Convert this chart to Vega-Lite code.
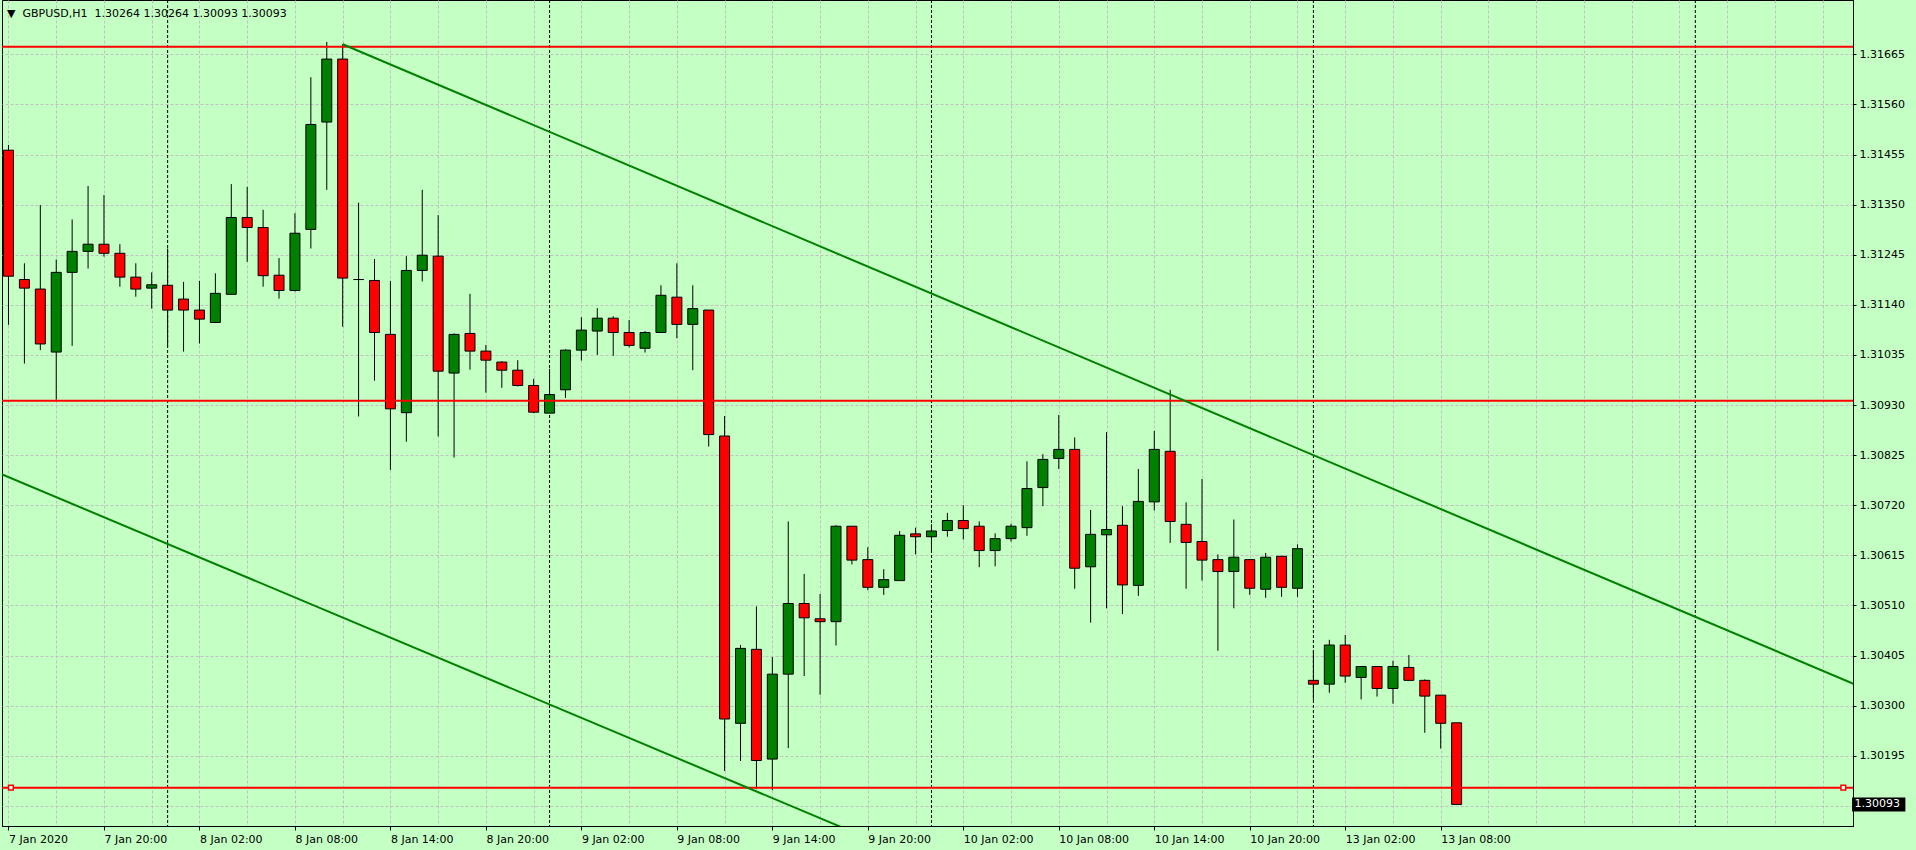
{
  "$schema": "https://vega.github.io/schema/vega-lite/v6.json",
  "width": 1851,
  "height": 826,
  "autosize": {"type": "none"},
  "padding": {"left": 2, "top": 0, "right": 63, "bottom": 24},
  "background": "#C4FFC4",
  "config": {
    "view": {"fill": "#C4FFC4", "stroke": "#000000", "strokeWidth": 1},
    "font": "DejaVu Sans"
  },
  "title": {
    "text": "▼\u00a0\u00a0GBPUSD,H1\u00a0\u00a01.30264 1.30264 1.30093 1.30093",
    "anchor": "start", "frame": "group", "orient": "top",
    "offset": -25, "baseline": "middle", "dx": 5,
    "font": "DejaVu Sans", "fontSize": 11, "fontWeight": "normal", "color": "#000000"
  },
  "datasets": {
    "candles": [
      {"i":0,"o":1.31464,"h":1.31475,"l":1.31098,"c":1.31200},
      {"i":1,"o":1.31193,"h":1.31227,"l":1.31017,"c":1.31175},
      {"i":2,"o":1.31173,"h":1.31349,"l":1.31045,"c":1.31058},
      {"i":3,"o":1.31041,"h":1.31235,"l":1.30941,"c":1.31208},
      {"i":4,"o":1.31208,"h":1.31319,"l":1.31054,"c":1.31252},
      {"i":5,"o":1.31252,"h":1.31389,"l":1.31216,"c":1.31267},
      {"i":6,"o":1.31267,"h":1.31370,"l":1.31241,"c":1.31248},
      {"i":7,"o":1.31248,"h":1.31267,"l":1.31178,"c":1.31198},
      {"i":8,"o":1.31198,"h":1.31227,"l":1.31157,"c":1.31173},
      {"i":9,"o":1.31175,"h":1.31208,"l":1.31132,"c":1.31182},
      {"i":10,"o":1.31181,"h":1.31258,"l":1.31052,"c":1.31129},
      {"i":11,"o":1.31152,"h":1.31188,"l":1.31042,"c":1.31129},
      {"i":12,"o":1.31129,"h":1.31190,"l":1.31059,"c":1.31110},
      {"i":13,"o":1.31103,"h":1.31206,"l":1.31102,"c":1.31164},
      {"i":14,"o":1.31162,"h":1.31393,"l":1.31162,"c":1.31323},
      {"i":15,"o":1.31323,"h":1.31387,"l":1.31230,"c":1.31302},
      {"i":16,"o":1.31302,"h":1.31339,"l":1.31178,"c":1.31201},
      {"i":17,"o":1.31202,"h":1.31238,"l":1.31153,"c":1.31170},
      {"i":18,"o":1.31170,"h":1.31332,"l":1.31168,"c":1.31290},
      {"i":19,"o":1.31298,"h":1.31617,"l":1.31258,"c":1.31518},
      {"i":20,"o":1.31523,"h":1.31691,"l":1.31381,"c":1.31655},
      {"i":21,"o":1.31655,"h":1.31686,"l":1.31094,"c":1.31196},
      {"i":22,"o":1.31193,"h":1.31354,"l":1.30906,"c":1.31193},
      {"i":23,"o":1.31191,"h":1.31236,"l":1.30981,"c":1.31082},
      {"i":24,"o":1.31078,"h":1.31190,"l":1.30794,"c":1.30922},
      {"i":25,"o":1.30914,"h":1.31242,"l":1.30853,"c":1.31212},
      {"i":26,"o":1.31212,"h":1.31381,"l":1.31189,"c":1.31244},
      {"i":27,"o":1.31242,"h":1.31328,"l":1.30864,"c":1.31001},
      {"i":28,"o":1.30997,"h":1.31080,"l":1.30820,"c":1.31078},
      {"i":29,"o":1.31080,"h":1.31163,"l":1.31004,"c":1.31043},
      {"i":30,"o":1.31043,"h":1.31056,"l":1.30956,"c":1.31024},
      {"i":31,"o":1.31020,"h":1.31022,"l":1.30966,"c":1.31003},
      {"i":32,"o":1.31003,"h":1.31024,"l":1.30969,"c":1.30971},
      {"i":33,"o":1.30971,"h":1.30985,"l":1.30913,"c":1.30915},
      {"i":34,"o":1.30913,"h":1.31006,"l":1.30913,"c":1.30952},
      {"i":35,"o":1.30962,"h":1.31047,"l":1.30945,"c":1.31045},
      {"i":36,"o":1.31045,"h":1.31114,"l":1.31023,"c":1.31087},
      {"i":37,"o":1.31085,"h":1.31133,"l":1.31035,"c":1.31112},
      {"i":38,"o":1.31112,"h":1.31116,"l":1.31033,"c":1.31082},
      {"i":39,"o":1.31082,"h":1.31108,"l":1.31051,"c":1.31055},
      {"i":40,"o":1.31049,"h":1.31085,"l":1.31040,"c":1.31082},
      {"i":41,"o":1.31082,"h":1.31181,"l":1.31082,"c":1.31160},
      {"i":42,"o":1.31156,"h":1.31227,"l":1.31070,"c":1.31099},
      {"i":43,"o":1.31099,"h":1.31181,"l":1.31003,"c":1.31132},
      {"i":44,"o":1.31129,"h":1.31129,"l":1.30843,"c":1.30868},
      {"i":45,"o":1.30865,"h":1.30907,"l":1.30163,"c":1.30272},
      {"i":46,"o":1.30263,"h":1.30427,"l":1.30184,"c":1.30420},
      {"i":47,"o":1.30418,"h":1.30508,"l":1.30125,"c":1.30185},
      {"i":48,"o":1.30188,"h":1.30402,"l":1.30123,"c":1.30366},
      {"i":49,"o":1.30366,"h":1.30686,"l":1.30211,"c":1.30514},
      {"i":50,"o":1.30514,"h":1.30576,"l":1.30362,"c":1.30484},
      {"i":51,"o":1.30482,"h":1.30534,"l":1.30323,"c":1.30476},
      {"i":52,"o":1.30476,"h":1.30678,"l":1.30426,"c":1.30676},
      {"i":53,"o":1.30676,"h":1.30676,"l":1.30596,"c":1.30605},
      {"i":54,"o":1.30606,"h":1.30632,"l":1.30542,"c":1.30548},
      {"i":55,"o":1.30548,"h":1.30586,"l":1.30532,"c":1.30564},
      {"i":56,"o":1.30562,"h":1.30666,"l":1.30562,"c":1.30657},
      {"i":57,"o":1.30660,"h":1.30673,"l":1.30617,"c":1.30654},
      {"i":58,"o":1.30654,"h":1.30680,"l":1.30625,"c":1.30666},
      {"i":59,"o":1.30667,"h":1.30704,"l":1.30654,"c":1.30688},
      {"i":60,"o":1.30688,"h":1.30720,"l":1.30648,"c":1.30671},
      {"i":61,"o":1.30676,"h":1.30686,"l":1.30590,"c":1.30625},
      {"i":62,"o":1.30625,"h":1.30661,"l":1.30592,"c":1.30650},
      {"i":63,"o":1.30650,"h":1.30681,"l":1.30644,"c":1.30676},
      {"i":64,"o":1.30673,"h":1.30812,"l":1.30656,"c":1.30755},
      {"i":65,"o":1.30757,"h":1.30827,"l":1.30718,"c":1.30816},
      {"i":66,"o":1.30818,"h":1.30909,"l":1.30796,"c":1.30837},
      {"i":67,"o":1.30837,"h":1.30862,"l":1.30545,"c":1.30588},
      {"i":68,"o":1.30591,"h":1.30710,"l":1.30474,"c":1.30659},
      {"i":69,"o":1.30658,"h":1.30873,"l":1.30504,"c":1.30669},
      {"i":70,"o":1.30678,"h":1.30718,"l":1.30492,"c":1.30553},
      {"i":71,"o":1.30552,"h":1.30796,"l":1.30530,"c":1.30728},
      {"i":72,"o":1.30727,"h":1.30876,"l":1.30709,"c":1.30837},
      {"i":73,"o":1.30833,"h":1.30962,"l":1.30641,"c":1.30686},
      {"i":74,"o":1.30680,"h":1.30726,"l":1.30545,"c":1.30642},
      {"i":75,"o":1.30644,"h":1.30775,"l":1.30562,"c":1.30605},
      {"i":76,"o":1.30606,"h":1.30617,"l":1.30415,"c":1.30581},
      {"i":77,"o":1.30581,"h":1.30690,"l":1.30504,"c":1.30611},
      {"i":78,"o":1.30606,"h":1.30606,"l":1.30532,"c":1.30546},
      {"i":79,"o":1.30544,"h":1.30620,"l":1.30526,"c":1.30611},
      {"i":80,"o":1.30613,"h":1.30613,"l":1.30528,"c":1.30548},
      {"i":81,"o":1.30546,"h":1.30638,"l":1.30528,"c":1.30629},
      {"i":82,"o":1.30353,"h":1.30415,"l":1.30312,"c":1.30345},
      {"i":83,"o":1.30345,"h":1.30438,"l":1.30327,"c":1.30427},
      {"i":84,"o":1.30427,"h":1.30448,"l":1.30348,"c":1.30362},
      {"i":85,"o":1.30359,"h":1.30382,"l":1.30313,"c":1.30382},
      {"i":86,"o":1.30382,"h":1.30382,"l":1.30319,"c":1.30336},
      {"i":87,"o":1.30336,"h":1.30394,"l":1.30304,"c":1.30382},
      {"i":88,"o":1.30380,"h":1.30406,"l":1.30353,"c":1.30353},
      {"i":89,"o":1.30353,"h":1.30355,"l":1.30243,"c":1.30320},
      {"i":90,"o":1.30322,"h":1.30322,"l":1.30210,"c":1.30263},
      {"i":91,"o":1.30264,"h":1.30264,"l":1.30093,"c":1.30093}
    ],
    "levels": [{"p":1.31681},{"p":1.30939},{"p":1.30128}],
    "days": [{"i":10},{"i":34},{"i":58},{"i":82},{"i":106}],
    "trend": [
      {"line":"upper","i":21,"p":1.31686},
      {"line":"upper","i":116,"p":1.30345},
      {"line":"lower","i":-1,"p":1.30793},
      {"line":"lower","i":60,"p":1.29938}
    ],
    "handles": [{"i":0.15,"p":1.30128},{"i":115.3,"p":1.30128}],
    "last": [{"p":1.30093}]
  },
  "layer": [
    {
      "data": {"name": "days"},
      "mark": {"type": "rule", "color": "#000000", "strokeWidth": 1, "strokeDash": [3, 2]},
      "encoding": {
        "x": {
          "field": "i", "type": "quantitative",
          "scale": {"domain": [-0.094, 115.594], "nice": false, "zero": false},
          "axis": {
            "orient": "bottom",
            "values": [0,3,6,9,12,15,18,21,24,27,30,33,36,39,42,45,48,51,54,57,60,63,66,69,72,75,78,81,84,87,90,93,96,99,102,105,108,111,114],
            "grid": true, "gridColor": "#C0C0C0", "gridDash": [3, 2], "gridWidth": 1,
            "domain": true, "domainColor": "#000000", "domainWidth": 1,
            "ticks": true, "tickColor": "#000000", "tickSize": 4, "tickWidth": 1,
            "tickOpacity": {"condition": {"test": "datum.value % 6 === 0 && datum.value <= 90", "value": 1}, "value": 0},
            "labelExpr": "(datum.value % 6 === 0 && datum.value <= 90) ? ['7 Jan 2020','7 Jan 20:00','8 Jan 02:00','8 Jan 08:00','8 Jan 14:00','8 Jan 20:00','9 Jan 02:00','9 Jan 08:00','9 Jan 14:00','9 Jan 20:00','10 Jan 02:00','10 Jan 08:00','10 Jan 14:00','10 Jan 20:00','13 Jan 02:00','13 Jan 08:00'][round(datum.value / 6)] : ''",
            "labelAlign": "left", "labelBaseline": "top", "labelPadding": 3,
            "labelFont": "DejaVu Sans", "labelFontSize": 11, "labelColor": "#000000",
            "labelOverlap": false, "labelFlush": false, "title": null
          }
        }
      }
    },
    {
      "data": {"name": "candles"},
      "mark": {"type": "rule", "color": "#000000", "strokeWidth": 1},
      "encoding": {
        "x": {"field": "i", "type": "quantitative"},
        "y": {
          "field": "l", "type": "quantitative",
          "scale": {"domain": [1.3004777, 1.3177879], "nice": false, "zero": false},
          "axis": {
            "orient": "right",
            "values": [1.3009,1.30195,1.303,1.30405,1.3051,1.30615,1.3072,1.30825,1.3093,1.31035,1.3114,1.31245,1.3135,1.31455,1.3156,1.31665],
            "grid": true, "gridColor": "#C0C0C0", "gridDash": [3, 2], "gridWidth": 1,
            "domain": true, "domainColor": "#000000", "domainWidth": 1,
            "ticks": true, "tickColor": "#000000", "tickSize": 3, "tickWidth": 1,
            "labelExpr": "datum.value < 1.301 ? '' : format(datum.value, '.5f')",
            "labelPadding": 3, "labelFont": "DejaVu Sans", "labelFontSize": 11, "labelColor": "#000000",
            "labelOverlap": false, "labelFlush": false, "title": null
          }
        },
        "y2": {"field": "h"}
      }
    },
    {
      "data": {"name": "candles"},
      "mark": {"type": "bar", "size": 10, "stroke": "#000000", "strokeWidth": 1, "orient": "vertical"},
      "encoding": {
        "x": {"field": "i", "type": "quantitative"},
        "y": {"field": "o", "type": "quantitative"},
        "y2": {"field": "c"},
        "color": {"condition": {"test": "datum.c >= datum.o", "value": "#008000"}, "value": "#FF0000"}
      }
    },
    {
      "data": {"name": "levels"},
      "mark": {"type": "rule", "color": "#FF0000", "strokeWidth": 2},
      "encoding": {
        "y": {"field": "p", "type": "quantitative"}
      }
    },
    {
      "data": {"name": "trend"},
      "mark": {"type": "line", "color": "#008000", "strokeWidth": 2, "clip": true},
      "encoding": {
        "x": {"field": "i", "type": "quantitative"},
        "y": {"field": "p", "type": "quantitative"},
        "detail": {"field": "line", "type": "nominal"}
      }
    },
    {
      "data": {"name": "handles"},
      "mark": {"type": "point", "shape": "square", "size": 22, "filled": false, "stroke": "#FF0000", "strokeWidth": 1.5, "fill": "#FFFFFF", "fillOpacity": 1, "opacity": 1},
      "encoding": {
        "x": {"field": "i", "type": "quantitative"},
        "y": {"field": "p", "type": "quantitative"}
      }
    },
    {
      "data": {"name": "last"},
      "mark": {"type": "rect", "color": "#000000", "clip": false},
      "encoding": {
        "x": {"datum": 115.85, "type": "quantitative"},
        "x2": {"datum": 119.2},
        "y": {"datum": 1.300783, "type": "quantitative"},
        "y2": {"datum": 1.301077}
      }
    },
    {
      "data": {"name": "last"},
      "mark": {"type": "text", "color": "#FFFFFF", "align": "left", "baseline": "middle", "font": "DejaVu Sans", "fontSize": 11, "clip": false},
      "encoding": {
        "x": {"datum": 116.0, "type": "quantitative"},
        "y": {"field": "p", "type": "quantitative"},
        "text": {"field": "p", "type": "quantitative", "format": ".5f"}
      }
    }
  ]
}
